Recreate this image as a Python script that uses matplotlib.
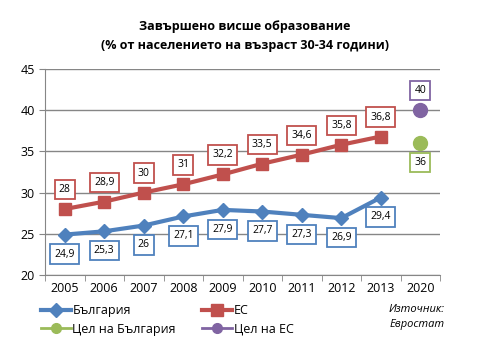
import matplotlib.pyplot as plt
from matplotlib.lines import Line2D
import numpy as np

plt.rcParams['font.family'] = ['Open Sans', 'DejaVu Sans']

# Данни
years = ['2005', '2006', '2007', '2008', '2009', '2010', '2011', '2012', '2013', '2020']
bg = [24.9, 25.3, 26.0, 27.1, 27.9, 27.7, 27.3, 26.9, 29.4]
eu = [28.0, 28.9, 30.0, 31.0, 32.2, 33.5, 34.6, 35.8, 36.8]
bg_target = 36
eu_target = 40

blue = '#4F81BD'
red = '#C0504D'
green = '#9BBB59'
purple = '#8064A2'

fig = plt.figure(figsize=(5, 3.59), dpi=100)
ax = fig.add_axes([0.09, 0.234, 0.79, 0.574])

x = np.arange(len(years))
ax.plot(x[:len(bg)], bg, color=blue, lw=3, marker='D', ms=7, zorder=3)
ax.plot(x[:len(eu)], eu, color=red, lw=3, marker='s', ms=8, zorder=3)
ax.plot([x[-1]], [bg_target], color=green, marker='o', ms=10, ls='none', zorder=3)
ax.plot([x[-1]], [eu_target], color=purple, marker='o', ms=10, ls='none', zorder=3)


def label(xi, yi, offset, color):
    txt = ('%g' % yi).replace('.', ',')
    ax.annotate(txt, (xi, yi), xytext=(0, offset), textcoords='offset points',
                ha='center', va='center', fontsize=7.5, zorder=4,
                bbox=dict(boxstyle='square,pad=0.4', fc='white', ec=color, lw=1.3))


for i, v in enumerate(bg):
    label(i, v, -14, blue)
for i, v in enumerate(eu):
    label(i, v, 14, red)
label(x[-1], bg_target, -14, green)
label(x[-1], eu_target, 14, purple)

ax.set_xlim(-0.5, len(years) - 0.5)
ax.set_ylim(20, 45)
ax.set_yticks([20, 25, 30, 35, 40, 45])
ax.set_xticks(x)
ax.set_xticklabels(years)
ax.set_xticks(np.arange(-0.5, len(years), 1), minor=True)
ax.tick_params(axis='x', which='major', length=0, pad=5, labelsize=9)
ax.tick_params(axis='x', which='minor', length=4, color='#868686')
ax.tick_params(axis='y', length=4, color='#868686', labelsize=9)
ax.grid(axis='y', color='#868686', lw=1)
ax.set_axisbelow(True)
for s in ['top', 'right']:
    ax.spines[s].set_visible(False)
for s in ['left', 'bottom']:
    ax.spines[s].set_color('#868686')

fig.text(0.49, 0.9, 'Завършено висше образование\n(% от населението на възраст 30-34 години)',
         ha='center', va='center', fontsize=9, fontweight='bold', linespacing=1.6)

# ред: България, Цел на България (1-ва колона), ЕС, Цел на ЕС (2-ра колона)
handles = [
    Line2D([], [], color=blue, lw=3, marker='D', ms=7),
    Line2D([], [], color=green, lw=2, marker='o', ms=7),
    Line2D([], [], color=red, lw=3, marker='s', ms=8),
    Line2D([], [], color=purple, lw=2, marker='o', ms=7),
]
names = ['България', 'Цел на България', 'ЕС', 'Цел на ЕС']
fig.legend(handles, names, loc='upper left', bbox_to_anchor=(0.07, 0.17),
           ncol=2, frameon=False, fontsize=9, handlelength=2.4, handletextpad=0.1,
           columnspacing=2.1, labelspacing=0.45, borderpad=0)

fig.text(0.89, 0.118, 'Източник:\nЕвростат', ha='right', va='center',
         fontsize=8, style='italic', linespacing=1.5)

fig.savefig('out.png', dpi=100)
